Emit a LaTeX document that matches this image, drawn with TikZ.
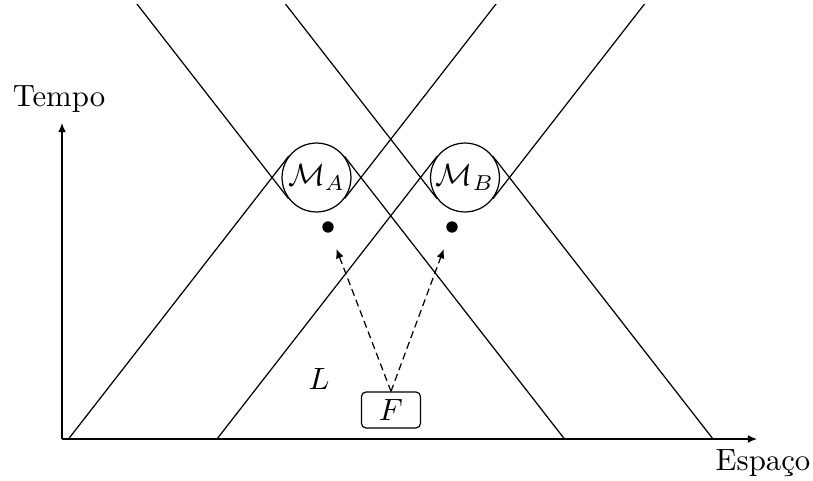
\documentclass[tikz,border=0pt]{standalone}
\usepackage{fontspec}
\usetikzlibrary{arrows.meta}
\begin{document}
\begin{tikzpicture}[x=0.325pt,y=0.325pt,
  regionnode/.style={circle,draw,minimum size=22.4pt,inner sep=0pt},
  eventdot/.style={circle,fill=black,minimum size=3.7pt,inner sep=0pt},
  sourcebox/.style={draw,rounded corners=1.5pt,minimum width=19.2pt,minimum height=11.7pt,inner sep=0pt},
  axisarrow/.style={-{Latex[length=3pt,width=2.6pt]},line width=0.4pt},
  rayarrow/.style={-{Latex[length=3pt,width=2.6pt]},dash pattern=on 2.3pt off 1.4pt,shorten >=5.6pt},
  coneline/.style={line width=0.4pt}]
\useasboundingbox (0,0) rectangle (813,480);
\coordinate (O) at (62,41);
\coordinate (T) at (62,357);
\coordinate (E) at (757,41);
\draw[axisarrow] (O) -- (T);
\draw[axisarrow] (O) -- (E);
\node[anchor=south] (tempo) at (59,357) {Tempo};
\node[anchor=north] (espaco) at (763,41) {Espaço};
\node[regionnode] (MA) at (316.5,302.5) {$\mathcal{M}_A$};
\node[regionnode] (MB) at (465,302.5) {$\mathcal{M}_B$};
\begin{scope}
\clip (0,41) rectangle (813,476);
\foreach \m in {MA,MB}{
  \draw[coneline] (\m.217.9) -- ++(127.9:500);
  \draw[coneline] (\m.142.1) -- ++(232.1:500);
  \draw[coneline] (\m.-37.9) -- ++(52.1:500);
  \draw[coneline] (\m.37.9) -- ++(-52.1:500);
}
\end{scope}
\node (L) at (319,101) {$L$};
\node[sourcebox] (F) at (391,70) {$F$};
\node[eventdot] (a) at (328,253) {};
\node[eventdot] (b) at (452,253) {};
\draw[rayarrow] (F.north) -- (a);
\draw[rayarrow] (F.north) -- (b);
\end{tikzpicture}
\end{document}
